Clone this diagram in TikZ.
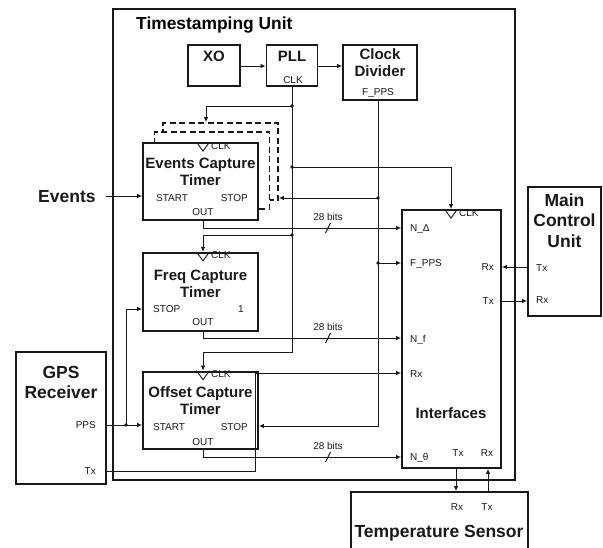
\documentclass[tikz,border=0pt]{standalone}
\usepackage{fontspec}
\setmainfont{Liberation Sans}
\usetikzlibrary{arrows.meta, positioning, calc}
\definecolor{lineBlack}{RGB}{25, 25, 25}

\begin{document}
\begin{tikzpicture}[x=1pt, y=-1pt,
    unitbox/.style={draw=lineBlack, line width=2.4pt, inner sep=0pt},
    block/.style={draw=lineBlack, fill=white, line width=1.8pt, inner sep=0pt},
    ghost/.style={block, dash pattern=on 6pt off 3.5pt},
    title/.style={font=\fontsize{15}{17}\selectfont\bfseries, align=center, inner sep=0pt, text=lineBlack},
    bigtitle/.style={font=\fontsize{17.5}{20.5}\selectfont\bfseries, align=center, inner sep=0pt, text=lineBlack},
    port/.style={font=\fontsize{10}{12}\selectfont, inner sep=0pt, text height=7.2pt, text depth=0pt, text=lineBlack},
    wire/.style={draw=lineBlack, line width=0.9pt},
    arrow/.style={wire, -{Latex[length=5pt, width=4.5pt]}},
    dot/.style={circle, fill=lineBlack, inner sep=0pt, minimum size=3.8pt},
    clkin/.pic={\draw[wire] (-6.5,0) -- (0,9) -- (6.5,0);
                \node[port, anchor=west] (-lbl) at (8,3.5) {CLK};}
]
\clip (0,0) rectangle (603,548);
\fill[white] (0,0) rectangle (603,548);

% outer unit
\node[unitbox, minimum width=402pt, minimum height=471pt] (unit) at (314,244.5) {};
\node[font=\fontsize{17.4}{20}\selectfont\bfseries, anchor=west, inner sep=0pt,
      text height=12.5pt, text depth=0pt] (unittitle) at (136,23) {Timestamping Unit};

% clock chain
\node[block, minimum width=52pt, minimum height=41pt] (xo) at (214,65.5) {};
\node[block, minimum width=51pt, minimum height=41pt] (pll) at (292,65.5) {};
\node[block, minimum width=74pt, minimum height=55pt] (cdiv) at (380,72.5) {};
\node[title, anchor=north] (xotitle) at ([yshift=-6.5pt]xo.north) {XO};
\node[title, anchor=north] (plltitle) at ([yshift=-6.5pt]pll.north) {PLL};
\node[port] (pllclk) at (293,80) {CLK};
\node[title, anchor=north] (cdivtitle) at ([yshift=-4.5pt]cdiv.north) {Clock\\Divider};
\node[port] (cdivpps) at (378,92) {F\_PPS};

% timers
\node[ghost, minimum width=115pt, minimum height=77pt] (events3) at (220.5,161.5) {};
\node[ghost, minimum width=115pt, minimum height=77pt] (events2) at (212,170.5) {};
\node[block, minimum width=115pt, minimum height=77pt] (events) at (200.5,181.5) {};
\node[block, minimum width=115pt, minimum height=78pt, below=31pt of events] (freq) {};
\node[block, minimum width=115pt, minimum height=77pt, below=39pt of freq] (offset) {};

\node[title, anchor=north] (evtitle) at ([yshift=-15.6pt]events.north) {Events Capture\\Timer};
\node[title, anchor=north] (frtitle) at ([yshift=-18.4pt]freq.north) {Freq Capture\\Timer};
\node[title, anchor=north] (oftitle) at ([yshift=-15.4pt]offset.north) {Offset Capture\\Timer};
\pic (evclk) at (events.north -| 203,0) {clkin};
\pic (frclk) at (freq.north -| 203,0) {clkin};
\pic (ofclk) at (offset.north -| 203,0) {clkin};

\node[port, anchor=west] (evstart) at (156,198) {START};
\node[port, anchor=east] (evstop) at (248,198) {STOP};
\node[port] (evoutlbl) at (203,212) {OUT};
\node[port, anchor=west] (frstop) at (153,309) {STOP};
\node[port] (frone) at (241,309) {1};
\node[port] (froutlbl) at (203,322) {OUT};
\node[port, anchor=west] (ofstart) at (153,427) {START};
\node[port, anchor=east] (ofstop) at (248,427) {STOP};
\node[port] (ofoutlbl) at (203,442) {OUT};

% interfaces
\node[block, minimum width=99pt, minimum height=258pt] (iface) at (451.5,339) {};
\node[title, text height=10.8pt, text depth=0pt] (iftitle) at (451,413) {Interfaces};
\pic (ifclk) at (iface.north -| 451,0) {clkin};
\node[port, anchor=west] (ifndelta) at (410,228) {N\_Δ};
\node[port, anchor=west] (ifpps) at (410,263) {F\_PPS};
\node[port, anchor=west] (ifnf) at (410,339) {N\_f};
\node[port, anchor=west] (ifrxL) at (410,374) {Rx};
\node[port, anchor=west] (ifntheta) at (410,457) {N\_θ};
\node[port, anchor=east] (ifrxR) at (494,267) {Rx};
\node[port, anchor=east] (iftxR) at (494,301) {Tx};
\node[port] (iftxB) at (458,453) {Tx};
\node[port] (ifrxB) at (487,453) {Rx};

% external units
\node[block, minimum width=90pt, minimum height=132pt] (gps) at (61,418) {};
\node[bigtitle, anchor=north] (gpstitle) at ([yshift=-14.5pt]gps.north) {GPS\\Receiver};
\node[port, anchor=east] (gpspps) at (96,425) {PPS};
\node[port, anchor=east] (gpstx) at (96,471) {Tx};

\node[block, minimum width=73pt, minimum height=129pt] (mcu) at (564.5,251.5) {};
\node[bigtitle, anchor=north] (mcutitle) at ([yshift=-7.5pt]mcu.north) {Main\\Control\\Unit};
\node[port, anchor=west] (mcutx) at (536,268) {Tx};
\node[port, anchor=west] (mcurx) at (536,300) {Rx};

\node[block, minimum width=177pt, minimum height=80pt] (temp) at (439.5,532) {};
\node[bigtitle, text height=12.5pt, text depth=0pt] (temptitle) at (439,531) {Temperature Sensor};
\node[port] (temprx) at (457,507) {Rx};
\node[port] (temptx) at (487,507) {Tx};

\node[bigtitle, anchor=west, text height=12.5pt, text depth=0pt] (evin) at (38,196) {Events};

% junctions
\coordinate (jclkA) at (292,106);
\coordinate (jclkB) at (292,167);
\coordinate (jclkC) at (292,235);
\coordinate (jclkD) at (292,352);
\coordinate (jev) at (206,106);
\coordinate (jif) at (451,167);
\coordinate (jfr) at (203,235);
\coordinate (jof) at (203,352);
\coordinate (jppsA) at (378,198);
\coordinate (jppsB) at (378,263);
\coordinate (jppsC) at (378,426);
\coordinate (jgps) at (126,425);
\coordinate (jfs) at (126,309);
\coordinate (evout) at (203,228);
\coordinate (frout) at (203,338);
\coordinate (ofout) at (203,457);
\coordinate (jtx) at (255,471);
\coordinate (jrx) at (255,373);

% clock wiring
\draw[arrow] (xo.east |- 0,66) -- (pll.west |- 0,66);
\draw[arrow] (pll.east |- 0,66) -- (cdiv.west |- 0,66);
\draw[arrow] (jclkA |- pll.south) -- (jclkD) -- (jof) -- (jof |- offset.north);
\draw[arrow] (jclkA) -- (jev) -- (jev |- events3.north);
\draw[arrow] (jclkB) -- (jif) -- (jif |- iface.north);
\draw[arrow] (jclkC) -- (jfr) -- (jfr |- freq.north);
\draw[arrow] (jppsA |- cdiv.south) -- (jppsC) -- (jppsC -| offset.east);
\draw[arrow] (jppsA) -- (jppsA -| events3.east);
\draw[arrow] (jppsB) -- (jppsB -| iface.west);
\foreach \j in {jclkA, jclkB, jclkC, jppsA, jppsB, jgps}
    \node[dot] (dot-\j) at (\j) {};

% data wiring
\draw[arrow] ([xshift=10pt]evin.east) -- (evin.east -| events.west);
\draw[arrow] (evout |- events.south) -- (evout) -- (evout -| iface.west);
\draw[arrow] (frout |- freq.south) -- (frout) -- (frout -| iface.west);
\draw[arrow] (ofout |- offset.south) -- (ofout) -- (ofout -| iface.west);
\foreach \o/\b in {evout/bitsA, frout/bitsB, ofout/bitsC} {
    \node[port] (\b) at ($(\o -| 328,0)+(0,-11)$) {28 bits};
    \draw[wire] ($(\o -| 328,0)+(-2.5,5)$) -- ++(5,-10);
}
\draw[arrow] (gps.east |- jgps) -- (jgps -| offset.west);
\draw[arrow] (jgps) -- (jfs) -- (jfs -| freq.west);
\draw[arrow] (gps.east |- jtx) -- (jtx) -- (jrx) -- (jrx -| iface.west);
\draw[arrow] (ifrxR -| mcu.west) -- (ifrxR -| iface.east);
\draw[arrow] (iftxR -| iface.east) -- (iftxR -| mcu.west);
\draw[arrow] (456,0 |- iface.south) -- (456,0 |- temp.north);
\draw[arrow] (488,0 |- temp.north) -- (488,0 |- iface.south);
\end{tikzpicture}
\end{document}
